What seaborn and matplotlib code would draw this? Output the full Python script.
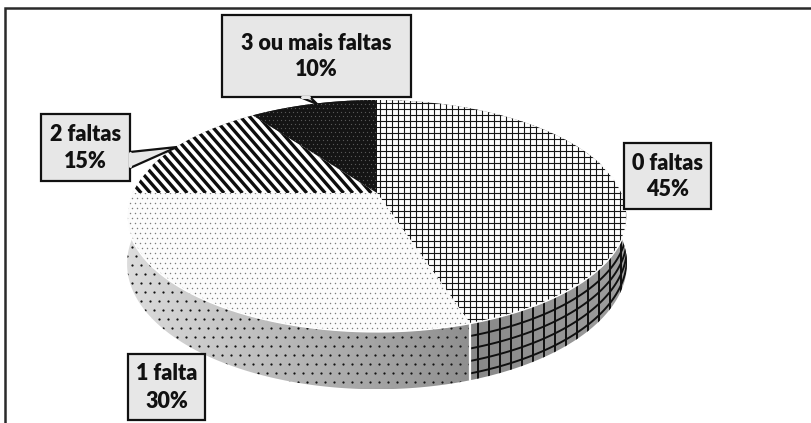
import numpy as np
import matplotlib
matplotlib.use("Agg")
import matplotlib.pyplot as plt
import seaborn as sns
from matplotlib.patches import Polygon, Rectangle
from matplotlib.collections import LineCollection

# ---- data ----
categories = ["0 faltas", "1 falta", "2 faltas", "3 ou mais faltas"]
values = [45, 30, 15, 10]
pct_labels = ["45%", "30%", "15%", "10%"]

sns.set_style("white")
plt.rcParams['font.family'] = ['Lato', 'DejaVu Sans']

W, H = 811, 423
fig = plt.figure(figsize=(W / 100, H / 100), dpi=100)
ax = fig.add_axes([0, 0, 1, 1])
ax.set_xlim(0, W)
ax.set_ylim(H, 0)
ax.axis('off')

CX, CY, RX, RY, K, DEPTH = 377, 193, 245, 111.4, 0.198, 46


def proj(theta, depth=0.0):
    t = np.radians(theta)
    u, v = np.sin(t), -np.cos(t)
    g = 1 / (1 - K * v)
    return CX + RX * u * g, CY + RY * v * g + depth * g


def arc(a0, a1, depth=0.0):
    n = max(int(abs(a1 - a0) * 2), 8)
    th = np.linspace(a0, a1, n)
    x, y = proj(th, depth)
    return np.column_stack([x, y])


total = float(sum(values))
bounds = np.concatenate([[0], np.cumsum(values)]) / total * 360.0


def bbox_of(pts):
    return pts[:, 0].min(), pts[:, 0].max(), pts[:, 1].min(), pts[:, 1].max()


def add_dots(clip, pts, step, size, color, z):
    x0, x1, y0, y1 = bbox_of(pts)
    xs, ys = [], []
    for i, yy in enumerate(np.arange(y0 - step, y1 + step, step)):
        off = (step / 2) * (i % 2)
        for xx in np.arange(x0 - step + off, x1 + step, step):
            xs.append(xx)
            ys.append(yy)
    sc = ax.scatter(xs, ys, s=size, c=color, marker='o', linewidths=0, zorder=z)
    sc.set_clip_path(clip)


def add_grid(clip, pts, step, lw, color, z):
    x0, x1, y0, y1 = bbox_of(pts)
    segs = [[(xx, y0 - 5), (xx, y1 + 5)] for xx in np.arange(x0 - 3, x1 + step, step)]
    segs += [[(x0 - 5, yy), (x1 + 5, yy)] for yy in np.arange(y0 - 3, y1 + step, step)]
    lc = LineCollection(segs, colors=color, linewidths=lw, zorder=z)
    ax.add_collection(lc)
    lc.set_clip_path(clip)


def add_stripes(clip, pts, step, slope, lw, color, z):
    x0, x1, y0, y1 = bbox_of(pts)
    span = (y1 - y0) / slope
    segs = []
    for xx in np.arange(x0 - span - step, x1 + step, step):
        segs.append([(xx, y0), (xx + span, y1)])
    lc = LineCollection(segs, colors=color, linewidths=lw, zorder=z)
    ax.add_collection(lc)
    lc.set_clip_path(clip)


def add_gradient(clip, pts, c0, c1, z):
    x0, x1, y0, y1 = bbox_of(pts)
    grad = np.linspace(c0, c1, 256).reshape(1, -1)
    im = ax.imshow(grad, extent=(x0, x1, y1, y0), cmap='gray', vmin=0, vmax=1,
                   aspect='auto', zorder=z, interpolation='bilinear')
    im.set_clip_path(clip)


# ---- side walls (front-facing slices) ----
wall_styles = {
    0: dict(g0=0.48, g1=0.62),
    1: dict(g0=0.86, g1=0.56),
    2: dict(g0=0.5, g1=0.5),
    3: dict(g0=0.2, g1=0.2),
}
for idx in [3, 2, 0, 1]:
    a0, a1 = bounds[idx], bounds[idx + 1]
    top = arc(a0, a1)
    bot = arc(a0, a1, DEPTH)
    pts = np.vstack([top, bot[::-1]])
    z = 1 + [3, 2, 0, 1].index(idx) * 0.1
    poly = Polygon(pts, closed=True, facecolor='none', edgecolor='none', zorder=z)
    ax.add_patch(poly)
    st = wall_styles[idx]
    add_gradient(poly, pts, st['g0'], st['g1'], z)
    if idx == 0:
        x0, x1, y0, y1 = bbox_of(pts)
        segs = [[(xx, y0 - 5), (xx, y1 + 5)] for xx in np.arange(x0 + 2, x1 + 11, 11)]
        for f in [0.22, 0.44, 0.66, 0.88]:
            segs.append(arc(a0, a1, DEPTH * f))
        lc = LineCollection(segs, colors='#101010', linewidths=1.4, zorder=z + 0.05)
        ax.add_collection(lc)
        lc.set_clip_path(poly)
    elif idx == 1:
        add_dots(poly, pts, 9, 2.6, '#111111', z + 0.05)

# white separator on wall between slice 0 and 1
bx0, by0 = proj(bounds[1])
bx1, by1 = proj(bounds[1], DEPTH)
ax.plot([bx0, bx1], [by0, by1], color='white', lw=1.6, zorder=2)

# ---- top faces ----
for idx in range(len(values)):
    a0, a1 = bounds[idx], bounds[idx + 1]
    pts = np.vstack([[CX, CY], arc(a0, a1)])
    z = 3 + idx * 0.1
    if idx == 0:
        poly = Polygon(pts, closed=True, facecolor='white', edgecolor='none', zorder=z)
        ax.add_patch(poly)
        add_grid(poly, pts, 6, 0.8, '#161616', z + 0.05)
    elif idx == 1:
        poly = Polygon(pts, closed=True, facecolor='#fbfbfb', edgecolor='none', zorder=z)
        ax.add_patch(poly)
        add_dots(poly, pts, 5, 1.1, '#7a7a7a', z + 0.05)
    elif idx == 2:
        poly = Polygon(pts, closed=True, facecolor='white', edgecolor='none', zorder=z)
        ax.add_patch(poly)
        add_stripes(poly, pts, 9.2, 1.15, 2.4, '#0d0d0d', z + 0.05)
    else:
        poly = Polygon(pts, closed=True, facecolor='#141414', edgecolor='none', zorder=z)
        ax.add_patch(poly)
        add_dots(poly, pts, 4, 0.8, '#5a5a5a', z + 0.05)

# white rim on the front
rim = arc(75, 285)
ax.plot(rim[:, 0], rim[:, 1], color='white', lw=1.0, zorder=3.6)

# ---- labels ----
label_boxes = {
    0: (624, 143, 711, 209),
    1: (128, 354, 205, 420),
    2: (41, 114, 130, 181),
    3: (222, 15, 411, 97),
}
box_fc = '#e7e7e7'
for idx, (x0, y0, x1, y1) in label_boxes.items():
    ax.add_patch(Rectangle((x0, y0), x1 - x0, y1 - y0, facecolor=box_fc,
                           edgecolor='#111111', lw=1.6, zorder=6))
    xc = (x0 + x1) / 2
    yc = (y0 + y1) / 2
    ax.text(xc, yc - 13, categories[idx], ha='center', va='center',
            fontsize=15.5, fontweight='heavy', color='#111111', zorder=7)
    ax.text(xc, yc + 14, pct_labels[idx], ha='center', va='center',
            fontsize=15.5, fontweight='heavy', color='#111111', zorder=7)

# callout pointers
ptr2 = Polygon([(130, 152), (177, 147), (130, 168)], closed=False,
               facecolor=box_fc, edgecolor='#111111', lw=1.6, zorder=6.5)
ax.add_patch(ptr2)
ax.plot([130, 130], [153.5, 166.5], color=box_fc, lw=2.2, zorder=6.6)
ptr3 = Polygon([(300, 97), (317, 104), (310, 97)], closed=False,
               facecolor=box_fc, edgecolor='#111111', lw=1.6, zorder=6.5)
ax.add_patch(ptr3)
ax.plot([301.5, 308.5], [97, 97], color=box_fc, lw=2.2, zorder=6.6)

# ---- outer frame (left and top edges) ----
ax.plot([5, 5, W], [H, 8, 8], color='#2a2a2a', lw=1.8, zorder=8,
        solid_joinstyle='miter')

fig.savefig('out.png', dpi=100)
